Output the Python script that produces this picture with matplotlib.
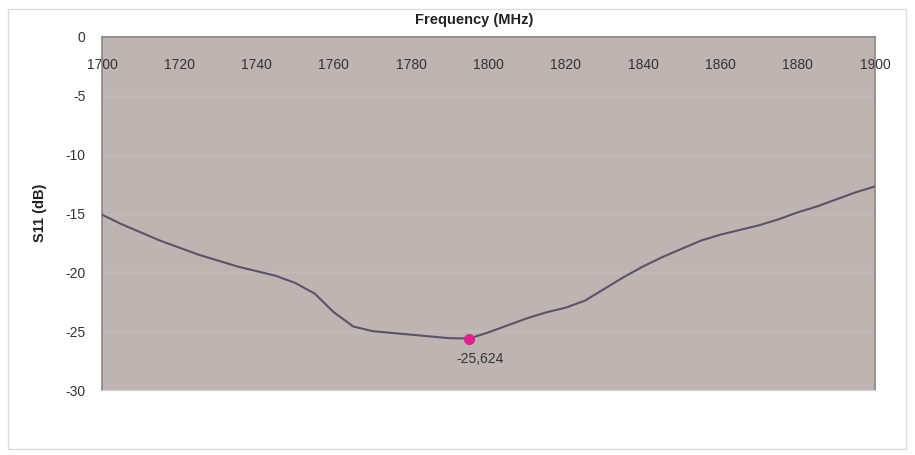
import matplotlib
matplotlib.use("Agg")
import matplotlib.pyplot as plt
from matplotlib.patches import Rectangle

freq = [1700, 1705, 1710, 1715, 1720, 1725, 1730, 1735, 1740, 1745, 1750, 1755, 1760,
        1765, 1770, 1775, 1780, 1785, 1790, 1795, 1800, 1805, 1810, 1815, 1820, 1825,
        1830, 1835, 1840, 1845, 1850, 1855, 1860, 1865, 1870, 1875, 1880, 1885, 1890,
        1895, 1900]
s11 = [-15.1, -15.9, -16.6, -17.3, -17.9, -18.5, -19.0, -19.5, -19.9, -20.3, -20.9, -21.8, -23.4,
       -24.6, -25.0, -25.15, -25.3, -25.45, -25.6, -25.624, -25.1, -24.5, -23.9, -23.4, -23.0, -22.4,
       -21.4, -20.4, -19.5, -18.7, -18.0, -17.3, -16.8, -16.4, -16.0, -15.5, -14.9, -14.4, -13.8,
       -13.2, -12.7]
min_freq = 1795
min_val = -25.624
min_label = "-25,624"
xticks = [1700, 1720, 1740, 1760, 1780, 1800, 1820, 1840, 1860, 1880, 1900]
yticks = [0, -5, -10, -15, -20, -25, -30]

plt.rcParams['font.family'] = ['Liberation Sans', 'DejaVu Sans']
plt.rcParams['axes.unicode_minus'] = False

fig = plt.figure(figsize=(9.15, 4.55), dpi=100)
fig.patch.set_facecolor('white')
fig.patches.append(Rectangle((8/915, 1-449/455), 898/915, 440/455, transform=fig.transFigure,
                             fill=False, edgecolor='#dcdcdc', linewidth=1.0))

ax = fig.add_axes([102/915, 1-390/455, 773/915, 353/455])
ax.set_facecolor('#beb5b3')
ax.set_xlim(1700, 1900)
ax.set_ylim(-30, 0)
ax.set_yticks(yticks)
ax.set_xticks(xticks)
ax.grid(axis='y', color='#c3bbb9', linewidth=1.0)
ax.set_axisbelow(True)

ax.plot(freq, s11, color='#5c5268', linewidth=1.5, zorder=3, solid_joinstyle='round')
ax.plot([min_freq], [min_val], 'o', color='#e0238c', markersize=7, zorder=4)
ax.annotate(min_label, (min_freq, min_val), xytext=(-9, -20), textcoords='offset points',
            fontsize=10, color='#333333', ha='left', va='bottom')

ax.tick_params(axis='x', top=True, labeltop=True, bottom=False, labelbottom=False,
               length=0, pad=-25, labelsize=10, labelcolor='#333333')
ax.tick_params(axis='y', length=0, pad=12, labelsize=10, labelcolor='#333333')

for s in ['left', 'right', 'top']:
    ax.spines[s].set_color('#8a8484')
    ax.spines[s].set_linewidth(1.2)
ax.spines['bottom'].set_color('#d0cccc')

fig.text(474/915, 1-20/455, 'Frequency (MHz)', ha='center', va='center',
         fontsize=10.5, fontweight='bold', color='#222222')
fig.text(40/915, 1-213/455, 'S11 (dB)', ha='center', va='center', rotation=90,
         fontsize=10.5, fontweight='bold', color='#222222')

fig.savefig('out.png', dpi=100)
